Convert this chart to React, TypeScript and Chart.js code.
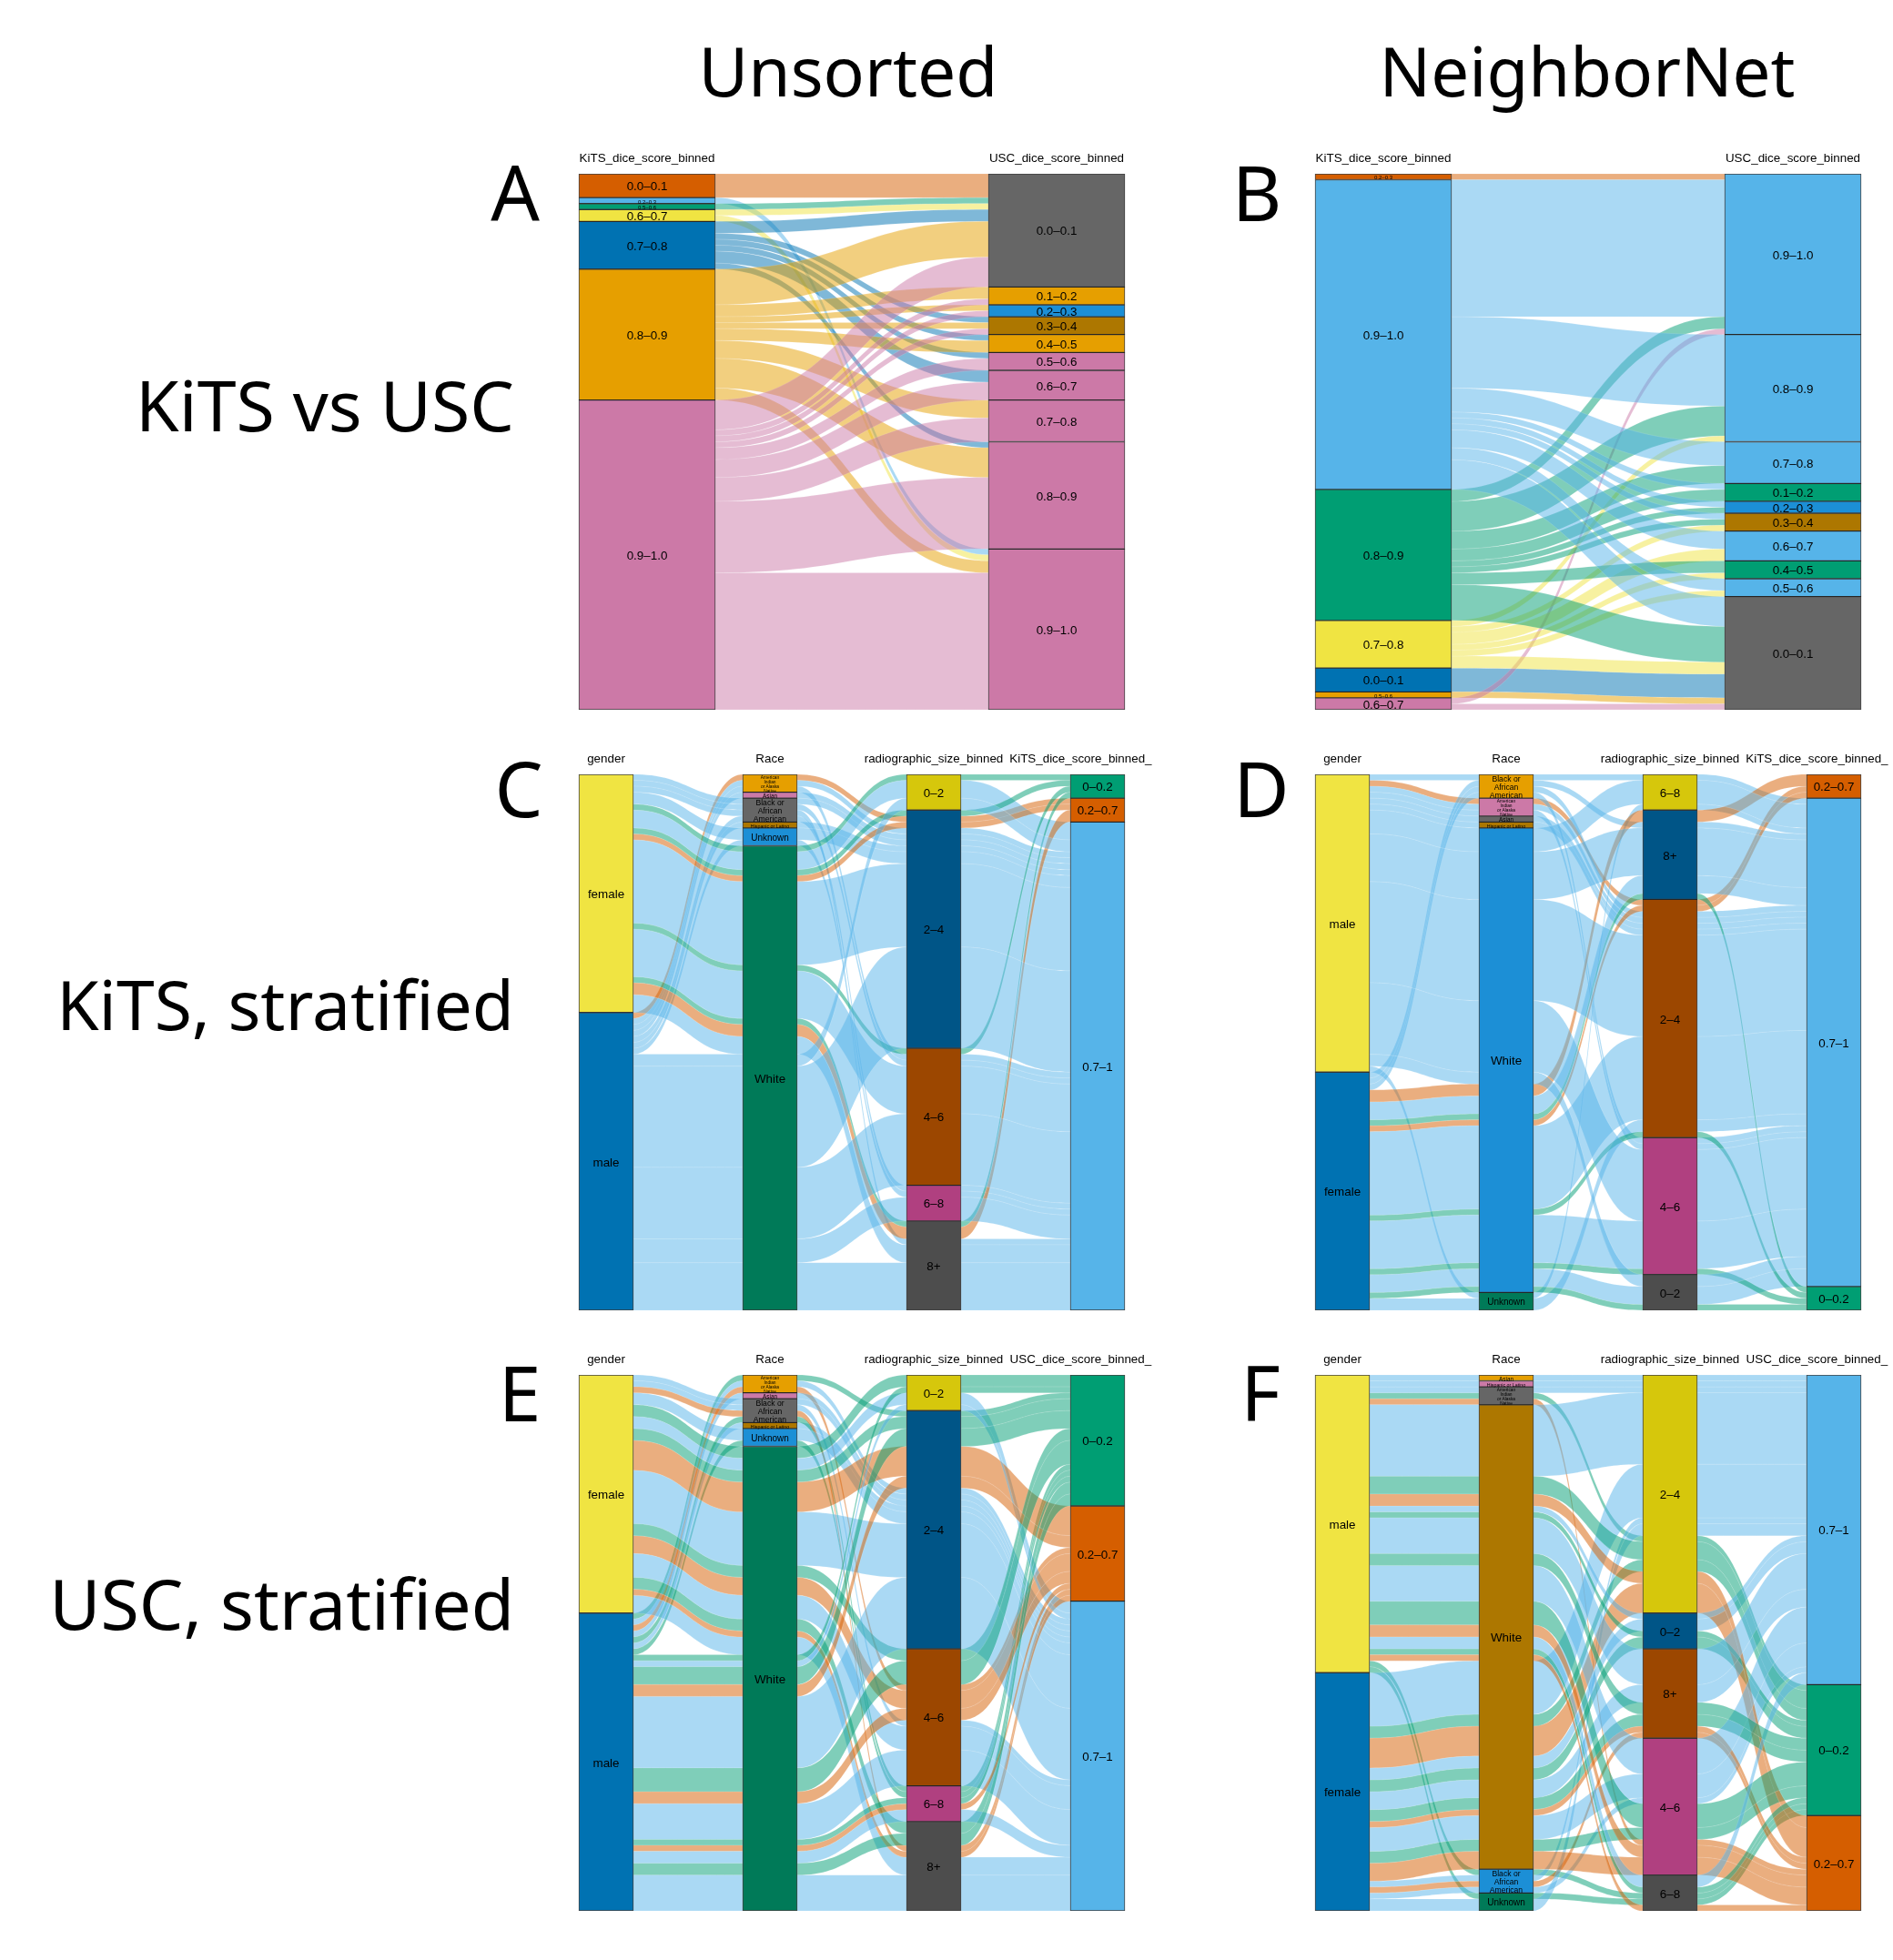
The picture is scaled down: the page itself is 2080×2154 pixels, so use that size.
import React, { useEffect, useRef } from "react";
import { Chart, registerables } from "chart.js";

Chart.register(...registerables);

// ---------- data: two-axis table (KiTS bin x USC bin, number of cases) ----------
const kitsFine = ["0.0–0.1", "0.2–0.3", "0.5–0.6", "0.6–0.7", "0.7–0.8", "0.8–0.9", "0.9–1.0"];
const uscFine = ["0.0–0.1", "0.1–0.2", "0.2–0.3", "0.3–0.4", "0.4–0.5", "0.5–0.6", "0.6–0.7", "0.7–0.8", "0.8–0.9", "0.9–1.0"];
const fineCounts = [
  [4, 0, 0, 0, 0, 0, 0, 0, 0, 0],
  [0, 0, 0, 0, 0, 0, 0, 0, 0, 1],
  [1, 0, 0, 0, 0, 0, 0, 0, 0, 0],
  [1, 0, 0, 0, 0, 0, 0, 0, 0, 1],
  [2, 0, 0, 1, 1, 1, 2, 0, 1, 0],
  [6, 2, 1, 1, 2, 0, 0, 3, 5, 2],
  [5, 1, 1, 1, 0, 2, 3, 4, 12, 23],
];

// ---------- data: stratified cohort [gender, race, size, KiTS bin, USC bin, cases] ----------
const LOW = "0–0.2";
const MID = "0.2–0.7";
const TOP = "0.7–1";
const AI = "American Indian or Alaska Native";
const BL = "Black or African American";
const HI = "Hispanic or Latino";
type Row = [string, string, string, string, string, number];
const whiteFemale: Row[] = [
  ["female", "White", "0–2", LOW, LOW, 1], ["female", "White", "0–2", TOP, LOW, 1], ["female", "White", "0–2", TOP, TOP, 2],
  ["female", "White", "2–4", LOW, LOW, 1], ["female", "White", "2–4", MID, TOP, 1], ["female", "White", "2–4", TOP, LOW, 1],
  ["female", "White", "2–4", TOP, MID, 5], ["female", "White", "2–4", TOP, TOP, 8],
  ["female", "White", "4–6", LOW, LOW, 1], ["female", "White", "4–6", TOP, LOW, 1], ["female", "White", "4–6", TOP, MID, 3], ["female", "White", "4–6", TOP, TOP, 4],
  ["female", "White", "8+", LOW, LOW, 1], ["female", "White", "8+", MID, LOW, 1], ["female", "White", "8+", MID, TOP, 1],
  ["female", "White", "8+", TOP, MID, 1], ["female", "White", "8+", TOP, TOP, 2],
];
const whiteMale: Row[] = [
  ["male", "White", "0–2", TOP, LOW, 1], ["male", "White", "0–2", TOP, TOP, 1],
  ["male", "White", "2–4", TOP, LOW, 3], ["male", "White", "2–4", TOP, MID, 2], ["male", "White", "2–4", TOP, TOP, 12],
  ["male", "White", "4–6", TOP, LOW, 4], ["male", "White", "4–6", TOP, MID, 2], ["male", "White", "4–6", TOP, TOP, 6],
  ["male", "White", "6–8", TOP, LOW, 1], ["male", "White", "6–8", TOP, MID, 1], ["male", "White", "6–8", TOP, TOP, 2],
  ["male", "White", "8+", TOP, LOW, 2], ["male", "White", "8+", TOP, TOP, 6],
];
const otherRaces: Row[] = [
  ["male", AI, "2–4", MID, LOW, 1], ["male", AI, "2–4", TOP, TOP, 1], ["male", AI, "4–6", TOP, MID, 1],
  ["male", "Asian", "2–4", TOP, TOP, 1], ["male", HI, "2–4", TOP, TOP, 1],
  ["male", BL, "6–8", TOP, LOW, 1], ["male", "Unknown", "6–8", TOP, LOW, 1],
  ["female", BL, "2–4", TOP, TOP, 1], ["female", BL, "4–6", TOP, TOP, 1], ["female", BL, "8+", TOP, MID, 1],
  ["female", "Unknown", "2–4", TOP, TOP, 2],
];
const cohort: Row[] = [...otherRaces, ...whiteFemale, ...whiteMale];

// ---------- axis orders ----------
const genderUnsorted = ["female", "male"];
const genderSorted = ["male", "female"];
const raceUnsorted = [AI, "Asian", BL, HI, "Unknown", "White"];
const raceSortedKits = [BL, AI, "Asian", HI, "White", "Unknown"];
const raceSortedUsc = ["Asian", HI, AI, "White", BL, "Unknown"];
const sizeUnsorted = ["0–2", "2–4", "4–6", "6–8", "8+"];
const sizeSortedKits = ["6–8", "8+", "2–4", "4–6", "0–2"];
const sizeSortedUsc = ["2–4", "0–2", "8+", "4–6", "6–8"];
const scoreUnsorted = [LOW, MID, TOP];
const scoreSortedKits = [MID, TOP, LOW];
const scoreSortedUsc = [TOP, LOW, MID];
const kitsSorted = ["0.2–0.3", "0.9–1.0", "0.8–0.9", "0.7–0.8", "0.0–0.1", "0.5–0.6", "0.6–0.7"];
const uscSorted = ["0.9–1.0", "0.8–0.9", "0.7–0.8", "0.1–0.2", "0.2–0.3", "0.3–0.4", "0.6–0.7", "0.4–0.5", "0.5–0.6", "0.0–0.1"];

// ---------- colours ----------
const ORANGE = "#E69F00", SKY = "#56B4E9", GREEN = "#009E73", YELLOW = "#F0E442", BLUE = "#0072B2", RED = "#D55E00", PINK = "#CC79A7";
const GREY = "#666666", OCHRE = "#AD7700", AZURE = "#1C8FD6", DEEP = "#007A58";
const binColours = [RED, SKY, GREEN, YELLOW, BLUE, ORANGE, PINK];
const uscUnsortedColours = [GREY, ORANGE, AZURE, OCHRE, ORANGE, PINK, PINK, PINK, PINK, PINK];
const uscSortedColours = [SKY, SKY, SKY, GREEN, AZURE, OCHRE, SKY, GREEN, SKY, GREY];
const genderColours = [YELLOW, BLUE];
const raceColours = [ORANGE, PINK, GREY, OCHRE, AZURE, DEEP];
const sizeColours = ["#D6C70C", "#005587", "#9C4700", "#B04080", "#4D4D4D"];
const scoreColour: Record<string, string> = { [LOW]: GREEN, [MID]: RED, [TOP]: SKY };

// ---------- label styling ----------
const FONT = '"Liberation Sans", Arial, sans-serif';
const labelLines: Record<string, string[]> = {
  [AI]: ["American", "Indian", "or Alaska", "Native"],
  [BL]: ["Black or", "African", "American"],
};
const labelFont: Record<string, [number, number]> = {
  [AI]: [4.8, 5],
  [BL]: [8.6, 9],
  [HI]: [5.3, 6],
  Asian: [6.4, 7],
  Unknown: [10, 11],
};

// ---------- layout of the six panels ----------
interface AxisDef { name: string; order: string[]; colours: string[] }
interface PanelDef {
  left: number; top: number; width: number; plotHeight: number; barWidth: number;
  axes: AxisDef[]; rows: { keys: string[]; n: number }[]; sort: number[][]; flowColour: (k: string[]) => string;
}
const HEADER = 40;
const TRAILING = "          ";
const fineRows = kitsFine.flatMap((k, i) => uscFine.map((u, j) => ({ keys: [k, u], n: fineCounts[i][j] }))).filter((r) => r.n > 0);
const cols = (o: string[]) => o.map((s) => scoreColour[s]);
const projected = (score: number) => cohort.map((r) => ({ keys: [r[0], r[1], r[2], r[score]], n: r[5] }));
const fineSort = [[0, 1], [1, 0]];
const cohortSort = [[0, 1, 2, 3], [1, 0, 2, 3], [2, 3, 1, 0], [3, 2, 1, 0]];

const panels: PanelDef[] = [
  {
    left: 486, top: 191, width: 900, plotHeight: 589, barWidth: 150, rows: fineRows, sort: fineSort,
    axes: [
      { name: "KiTS_dice_score_binned", order: kitsFine, colours: binColours },
      { name: "USC_dice_score_binned", order: uscFine, colours: uscUnsortedColours },
    ],
    flowColour: (k) => binColours[kitsFine.indexOf(k[0])],
  },
  {
    left: 1295, top: 191, width: 900, plotHeight: 589, barWidth: 150, rows: fineRows, sort: fineSort,
    axes: [
      { name: "KiTS_dice_score_binned", order: kitsSorted, colours: binColours },
      { name: "USC_dice_score_binned", order: uscSorted, colours: uscSortedColours },
    ],
    flowColour: (k) => binColours[kitsSorted.indexOf(k[0])],
  },
  {
    left: 576, top: 851, width: 720, plotHeight: 589, barWidth: 60, rows: projected(3), sort: cohortSort,
    axes: [
      { name: "gender", order: genderUnsorted, colours: genderColours },
      { name: "Race", order: raceUnsorted, colours: raceColours },
      { name: "radiographic_size_binned", order: sizeUnsorted, colours: sizeColours },
      { name: "KiTS_dice_score_binned_" + TRAILING, order: scoreUnsorted, colours: cols(scoreUnsorted) },
    ],
    flowColour: (k) => scoreColour[k[3]],
  },
  {
    left: 1385, top: 851, width: 720, plotHeight: 589, barWidth: 60, rows: projected(3), sort: cohortSort,
    axes: [
      { name: "gender", order: genderSorted, colours: genderColours },
      { name: "Race", order: raceSortedKits, colours: raceColours },
      { name: "radiographic_size_binned", order: sizeSortedKits, colours: sizeColours },
      { name: "KiTS_dice_score_binned_" + TRAILING, order: scoreSortedKits, colours: cols(scoreSortedKits) },
    ],
    flowColour: (k) => scoreColour[k[3]],
  },
  {
    left: 576, top: 1511, width: 720, plotHeight: 589, barWidth: 60, rows: projected(4), sort: cohortSort,
    axes: [
      { name: "gender", order: genderUnsorted, colours: genderColours },
      { name: "Race", order: raceUnsorted, colours: raceColours },
      { name: "radiographic_size_binned", order: sizeUnsorted, colours: sizeColours },
      { name: "USC_dice_score_binned_" + TRAILING, order: scoreUnsorted, colours: cols(scoreUnsorted) },
    ],
    flowColour: (k) => scoreColour[k[3]],
  },
  {
    left: 1385, top: 1511, width: 720, plotHeight: 589, barWidth: 60, rows: projected(4), sort: cohortSort,
    axes: [
      { name: "gender", order: genderSorted, colours: genderColours },
      { name: "Race", order: raceSortedUsc, colours: raceColours },
      { name: "radiographic_size_binned", order: sizeSortedUsc, colours: sizeColours },
      { name: "USC_dice_score_binned_" + TRAILING, order: scoreSortedUsc, colours: cols(scoreSortedUsc) },
    ],
    flowColour: (k) => scoreColour[k[3]],
  },
];

const bigTexts = [
  { t: "Unsorted", x: 932, y: 77, s: 75, a: "center" },
  { t: "NeighborNet", x: 1744, y: 77, s: 74.5, a: "center" },
  { t: "A", x: 566, y: 211, s: 84, a: "center" },
  { t: "B", x: 1381, y: 211, s: 84, a: "center" },
  { t: "C", x: 570, y: 866, s: 84, a: "center" },
  { t: "D", x: 1386, y: 866, s: 84, a: "center" },
  { t: "E", x: 571, y: 1530, s: 84, a: "center" },
  { t: "F", x: 1385, y: 1530, s: 84, a: "center" },
  { t: "KiTS vs USC", x: 565, y: 444, s: 77, a: "right" },
  { t: "KiTS, stratified", x: 565, y: 1103, s: 75, a: "right" },
  { t: "USC, stratified", x: 565, y: 1761, s: 77, a: "right" },
];

// ---------- alluvial arithmetic ----------
function aggregate(rows: { keys: string[]; n: number }[]) {
  const m = new Map<string, { keys: string[]; n: number }>();
  for (const r of rows) {
    const id = r.keys.join("|");
    const e = m.get(id);
    if (e) e.n += r.n;
    else m.set(id, { keys: r.keys, n: r.n });
  }
  return [...m.values()];
}

function stackPositions(p: PanelDef) {
  const rows = aggregate(p.rows);
  const pos = rows.map(() => p.axes.map(() => [0, 0]));
  p.axes.forEach((ax, j) => {
    const idx = rows.map((_, i) => i);
    idx.sort((a, b) => {
      for (const k of p.sort[j]) {
        const d = p.axes[k].order.indexOf(rows[a].keys[k]) - p.axes[k].order.indexOf(rows[b].keys[k]);
        if (d) return d;
      }
      return 0;
    });
    let c = 0;
    for (const i of idx) {
      pos[i][j] = [c, c + rows[i].n];
      c += rows[i].n;
    }
  });
  return { rows, pos };
}

function alpha(hex: string, a: number) {
  const v = parseInt(hex.slice(1), 16);
  return `rgba(${(v >> 16) & 255},${(v >> 8) & 255},${v & 255},${a})`;
}

function buildChart(canvas: HTMLCanvasElement, p: PanelDef) {
  const { rows, pos } = stackPositions(p);
  const total = rows.reduce((s, r) => s + r.n, 0);
  const datasets: any[] = [];
  p.axes.forEach((ax, j) => {
    let c = 0;
    ax.order.forEach((cat, ci) => {
      const n = rows.filter((r) => r.keys[j] === cat).reduce((s, r) => s + r.n, 0);
      const data: any[] = p.axes.map(() => null);
      data[j] = [c, c + n];
      c += n;
      datasets.push({
        label: cat,
        data,
        backgroundColor: ax.colours[ci],
        borderColor: "rgba(0,0,0,0.75)",
        borderWidth: 1,
        borderSkipped: false,
        barThickness: p.barWidth,
        grouped: false,
        strataCases: n,
        axisIndex: j,
      });
    });
  });

  const ribbons = {
    id: "ribbons",
    beforeDatasetsDraw(chart: any) {
      const ctx = chart.ctx;
      const xs = chart.scales.x;
      const ys = chart.scales.y;
      rows.forEach((r, i) => {
        for (let j = 0; j + 1 < p.axes.length; j++) {
          const x0 = xs.getPixelForValue(j) + p.barWidth / 2;
          const x1 = xs.getPixelForValue(j + 1) - p.barWidth / 2;
          const m = (x0 + x1) / 2;
          const a0 = ys.getPixelForValue(pos[i][j][0]);
          const b0 = ys.getPixelForValue(pos[i][j][1]);
          const a1 = ys.getPixelForValue(pos[i][j + 1][0]);
          const b1 = ys.getPixelForValue(pos[i][j + 1][1]);
          ctx.beginPath();
          ctx.moveTo(x0, a0);
          ctx.bezierCurveTo(m, a0, m, a1, x1, a1);
          ctx.lineTo(x1, b1);
          ctx.bezierCurveTo(m, b1, m, b0, x0, b0);
          ctx.closePath();
          ctx.fillStyle = alpha(p.flowColour(r.keys), 0.5);
          ctx.fill();
          ctx.strokeStyle = "rgba(255,255,255,0.3)";
          ctx.lineWidth = 0.4;
          ctx.stroke();
        }
      });
    },
  };

  const stratumLabels = {
    id: "stratumLabels",
    afterDatasetsDraw(chart: any) {
      const ctx = chart.ctx;
      ctx.save();
      ctx.fillStyle = "#000";
      ctx.textAlign = "center";
      ctx.textBaseline = "middle";
      chart.data.datasets.forEach((ds: any, di: number) => {
        const el = chart.getDatasetMeta(di).data[ds.axisIndex];
        if (!el || !ds.strataCases) return;
        const cy = (el.y + el.base) / 2 + 1.5;
        const small = ds.strataCases === 1 ? [6, 7] : [13.4, 14];
        const [size, lead] = labelFont[ds.label] || small;
        const lines = labelLines[ds.label] || [ds.label];
        ctx.font = `${size}px ${FONT}`;
        lines.forEach((t: string, k: number) => {
          ctx.fillText(t, el.x, cy + (k - (lines.length - 1) / 2) * lead);
        });
      });
      ctx.restore();
    },
  };

  return new Chart(canvas, {
    type: "bar",
    data: { labels: p.axes.map((a) => a.name), datasets },
    plugins: [ribbons, stratumLabels],
    options: {
      animation: false,
      responsive: false,
      devicePixelRatio: 1,
      layout: { padding: 0 },
      plugins: { legend: { display: false }, tooltip: { enabled: false } },
      scales: {
        x: {
          type: "category",
          position: "top",
          offset: true,
          grid: { display: false },
          border: { display: false },
          afterFit: (s: any) => {
            s.height = HEADER;
            s.paddingLeft = 0;
            s.paddingRight = 0;
          },
          ticks: {
            autoSkip: false,
            maxRotation: 0,
            minRotation: 0,
            color: "#000",
            padding: 1,
            font: { family: FONT, size: 13.4 },
          },
        },
        y: { display: false, reverse: true, min: 0, max: total },
      },
    } as any,
  });
}

export default function App() {
  const refs = useRef<(HTMLCanvasElement | null)[]>([]);
  useEffect(() => {
    const charts = panels.map((p, i) => buildChart(refs.current[i] as HTMLCanvasElement, p));
    return () => charts.forEach((c) => c.destroy());
  }, []);
  return (
    <div style={{ position: "absolute", left: 0, top: 0, width: 2080, height: 2154, overflow: "hidden", background: "#fff" }}>
      {bigTexts.map((b) => (
        <div
          key={b.t}
          style={{
            position: "absolute",
            top: b.y,
            left: b.a === "center" ? b.x : undefined,
            right: b.a === "right" ? 2080 - b.x : undefined,
            transform: b.a === "center" ? "translate(-50%,-50%)" : "translateY(-50%)",
            fontFamily: '"Noto Sans", sans-serif',
            fontSize: b.s,
            lineHeight: 1,
            whiteSpace: "nowrap",
            color: "#000",
          }}
        >
          {b.t}
        </div>
      ))}
      {panels.map((p, i) => (
        <div key={i} style={{ position: "absolute", left: p.left, top: p.top - HEADER, width: p.width, height: p.plotHeight + HEADER }}>
          <canvas ref={(el) => { refs.current[i] = el; }} width={p.width} height={p.plotHeight + HEADER} />
        </div>
      ))}
    </div>
  );
}
